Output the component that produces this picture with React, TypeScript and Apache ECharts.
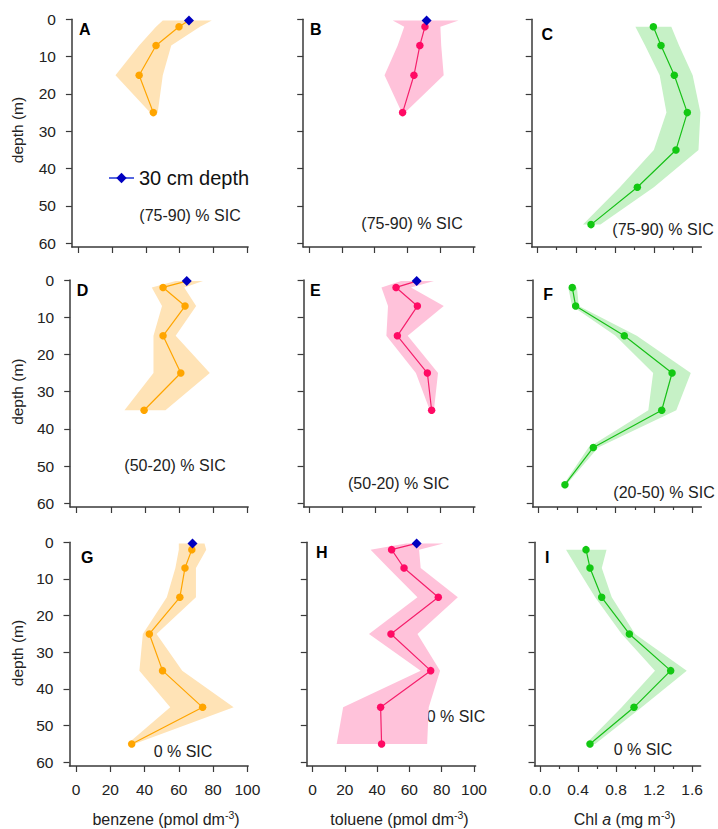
import React, { useEffect, useRef } from "react";
import * as echarts from "echarts";

const FONT = '"Liberation Sans", Arial, Helvetica, sans-serif';

// ---------- depths (m) ----------
const surfaceDepth = 0.3;
const depths4 = [2, 7, 15, 25];
const depths5 = [2, 7, 15, 25, 35];
const depths7 = [2, 7, 15, 25, 35, 45, 55];

// ---------- tick values ----------
const depthTicks = [0, 10, 20, 30, 40, 50, 60];
const concTicks = [0, 20, 40, 60, 80, 100];
const chlTicks = [0, 0.4, 0.8, 1.2, 1.6];
const chlMinorTicks = [0.2, 0.6, 1.0, 1.4];

// ---------- panel A (benzene, 75-90 % SIC) ----------
const benzeneA = [59.6, 46, 36, 44.4];
const benzeneA30cm = 65.5;
const bandLoA = [50, 46, 36, 22, 42.5];
const bandHiA = [79, 72, 55, 50, 47];

// ---------- panel B (toluene, 75-90 % SIC) ----------
const tolueneB = [70.6, 67.5, 63.9, 57];
const tolueneB30cm = 71.6;
const bandLoB = [51, 58, 54, 46, 56.5];
const bandHiB = [91, 80, 80.5, 82, 58.5];

// ---------- panel C (Chl a, 75-90 % SIC) ----------
const chlC = [1.195, 1.274, 1.411, 1.545, 1.428, 1.03, 0.553];
const bandLoC = [1.01, 1.11, 1.26, 1.33, 1.2, 0.85, 0.47];
const bandHiC = [1.38, 1.46, 1.6, 1.68, 1.66, 1.2, 0.65];

// ---------- panel D (benzene, 50-20 % SIC) ----------
const benzeneD = [50.6, 63.5, 50.6, 61, 39.5];
const benzeneD30cm = 64.5;
const bandLoD = [58, 44, 50, 45, 45, 28];
const bandHiD = [74, 63, 70, 58, 78, 52];

// ---------- panel E (toluene, 50-20 % SIC) ----------
const tolueneE = [52.9, 65.9, 53.7, 72, 74.6];
const tolueneE30cm = 65.5;
const bandLoE = [56, 44, 48, 47, 65, 73.5];
const bandHiE = [76, 62, 82, 60, 78.5, 76];

// ---------- panel F (Chl a, 20-50 % SIC) ----------
const chlF = [0.352, 0.387, 0.891, 1.386, 1.279, 0.57, 0.276];
const bandLoF = [0.31, 0.35, 0.8, 1.19, 1.14, 0.52, 0.26];
const bandHiF = [0.4, 0.42, 1.02, 1.58, 1.43, 0.62, 0.29];

// ---------- panel G (benzene, 0 % SIC) ----------
const benzeneG = [67.6, 63.6, 60.6, 42.8, 50.5, 73.9, 32.5];
const benzeneG30cm = 68;
const bandLoG = [60, 60, 58, 53, 39, 37, 55, 30];
const bandHiG = [75, 76, 70, 70, 47, 62, 92, 34];

// ---------- panel H (toluene, 0 % SIC) ----------
const tolueneH = [49, 56.7, 77.9, 48.6, 73.2, 42.2, 42.8];
const tolueneH30cm = 64.5;
const bandLoH = [58, 36, 47, 65, 35, 67, 19, 15];
const bandHiH = [81, 66, 67, 90, 65, 79, 72, 71];

// ---------- panel I (Chl a, 0 % SIC) ----------
const chlI = [0.484, 0.526, 0.649, 0.94, 1.375, 0.989, 0.526];
const bandLoI = [0.274, 0.39, 0.58, 0.86, 1.21, 0.86, 0.48];
const bandHiI = [0.7, 0.65, 0.755, 1.0, 1.544, 1.07, 0.58];

// ---------- labels ----------
const panelLetters = ["A", "B", "C", "D", "E", "F", "G", "H", "I"];
const sicLabels = [
  "(75-90) % SIC", "(75-90) % SIC", "(75-90) % SIC",
  "(50-20) % SIC", "(50-20) % SIC", "(20-50) % SIC",
  "0 % SIC", "0 % SIC", "0 % SIC",
];
const legendLabel = "30 cm depth";

// ---------- layout (pixels) ----------
const rowTop = [19.3, 280, 542.3];
const rowBottom = [247, 507, 766];
const panelLeft = [
  [71.9, 303.2, 531.7],
  [70.2, 303.6, 532.7],
  [69.5, 306.8, 534.5],
];
const panelRight = [
  [248.1, 474.9, 701.4],
  [248.2, 474.9, 701.4],
  [248.2, 475.6, 700.6],
];
const colRange = [
  [-3.8, 100.5],
  [-3.5, 101],
  [-0.058, 1.69],
];
const letterPos = [
  [79, 29.5], [310, 29.5], [541.5, 34],
  [76.7, 290.5], [310, 290.5], [543.3, 294.5],
  [81, 557.5], [316, 552.5], [545, 557],
];
const sicPos = [
  [190, 215], [412, 223], [663, 229],
  [175, 465], [398.7, 483], [664, 492],
  [183, 751], [456, 716.5], [643, 749],
];

const KINDS: any = {
  benzene: { line: "#FFA500", marker: "#FFA500", band: "#FFE3B6" },
  toluene: { line: "#F5206C", marker: "#FF0A64", band: "#FFC2DA" },
  chl: { line: "#18C018", marker: "#12C812", band: "#C6F1C6" },
};

const panels = [
  { kind: "benzene", depths: depths4, values: benzeneA, surface: benzeneA30cm, lo: bandLoA, hi: bandHiA },
  { kind: "toluene", depths: depths4, values: tolueneB, surface: tolueneB30cm, lo: bandLoB, hi: bandHiB },
  { kind: "chl", depths: depths7, values: chlC, surface: null, lo: bandLoC, hi: bandHiC },
  { kind: "benzene", depths: depths5, values: benzeneD, surface: benzeneD30cm, lo: bandLoD, hi: bandHiD },
  { kind: "toluene", depths: depths5, values: tolueneE, surface: tolueneE30cm, lo: bandLoE, hi: bandHiE },
  { kind: "chl", depths: depths7, values: chlF, surface: null, lo: bandLoF, hi: bandHiF },
  { kind: "benzene", depths: depths7, values: benzeneG, surface: benzeneG30cm, lo: bandLoG, hi: bandHiG },
  { kind: "toluene", depths: depths7, values: tolueneH, surface: tolueneH30cm, lo: bandLoH, hi: bandHiH },
  { kind: "chl", depths: depths7, values: chlI, surface: null, lo: bandLoI, hi: bandHiI },
];

const AXIS_COLOR = "#3a3a3a";
const TEXT_COLOR = "#222";

function buildOption() {
  const grid: any[] = [];
  const xAxis: any[] = [];
  const yAxis: any[] = [];
  const series: any[] = [];
  const graphic: any[] = [];

  panels.forEach((p, i) => {
    const row = Math.floor(i / 3);
    const col = i % 3;
    const left = panelLeft[row][col];
    const right = panelRight[row][col];
    grid.push({
      left,
      top: rowTop[row],
      width: right - left,
      height: rowBottom[row] - rowTop[row],
      containLabel: false,
    });
    const isChl = p.kind === "chl";
    const ticks = isChl ? chlTicks : concTicks;
    const xIdx = xAxis.length;
    xAxis.push({
      type: "value",
      gridIndex: i,
      min: colRange[col][0],
      max: colRange[col][1],
      position: "bottom",
      axisLine: { show: true, onZero: false, lineStyle: { color: AXIS_COLOR, width: 1.5 } },
      axisTick: { show: true, length: 6, customValues: ticks, lineStyle: { color: AXIS_COLOR, width: 1.2 } },
      axisLabel: {
        show: row === 2,
        customValues: ticks,
        formatter: (v: number) => (isChl ? v.toFixed(1) : String(v)),
        fontSize: 15.5,
        color: TEXT_COLOR,
        fontFamily: FONT,
        margin: 15,
      },
      splitLine: { show: false },
    });
    if (isChl) {
      xAxis.push({
        type: "value",
        gridIndex: i,
        min: colRange[col][0],
        max: colRange[col][1],
        position: "bottom",
        axisLine: { show: false, onZero: false },
        axisTick: { show: true, length: 3, customValues: chlMinorTicks, lineStyle: { color: AXIS_COLOR, width: 1.2 } },
        axisLabel: { show: false, customValues: chlMinorTicks },
        splitLine: { show: false },
      });
    }
    const yIdx = yAxis.length;
    yAxis.push({
      type: "value",
      gridIndex: i,
      min: 0,
      max: 61,
      inverse: true,
      position: "left",
      axisLine: { show: true, onZero: false, lineStyle: { color: AXIS_COLOR, width: 1.5 } },
      axisTick: { show: true, length: 6, customValues: depthTicks, lineStyle: { color: AXIS_COLOR, width: 1.2 } },
      axisLabel: {
        show: col === 0,
        customValues: depthTicks,
        fontSize: 15.5,
        color: TEXT_COLOR,
        fontFamily: FONT,
        margin: 16,
      },
      splitLine: { show: false },
    });

    const colors = KINDS[p.kind];
    const bandDepths = p.surface !== null ? [surfaceDepth, ...p.depths] : p.depths;
    const lo = p.lo;
    const hi = p.hi;
    series.push({
      type: "custom",
      xAxisIndex: xIdx,
      yAxisIndex: yIdx,
      silent: true,
      z: 1,
      data: bandDepths.map((d, k) => [lo[k], hi[k], d]),
      encode: { x: [0, 1], y: 2 },
      renderItem: (params: any, api: any) => {
        if (params.dataIndex !== 0) return null;
        const pts: number[][] = [];
        bandDepths.forEach((d, k) => pts.push(api.coord([lo[k], d])));
        for (let k = bandDepths.length - 1; k >= 0; k--) pts.push(api.coord([hi[k], bandDepths[k]]));
        return { type: "polygon", shape: { points: pts }, style: { fill: colors.band } };
      },
    });

    const lineData: any[] = [];
    if (p.surface !== null) lineData.push({ value: [p.surface, surfaceDepth], symbol: "none" });
    p.values.forEach((v, k) => lineData.push([v, p.depths[k]]));
    series.push({
      type: "line",
      xAxisIndex: xIdx,
      yAxisIndex: yIdx,
      data: lineData,
      symbol: "circle",
      symbolSize: 7.5,
      z: 2,
      lineStyle: { color: colors.line, width: 1.2 },
      itemStyle: { color: colors.marker },
      silent: true,
    });
    if (p.surface !== null) {
      series.push({
        type: "line",
        name: legendLabel,
        xAxisIndex: xIdx,
        yAxisIndex: yIdx,
        data: [[p.surface, surfaceDepth]],
        symbol: "diamond",
        symbolSize: 10,
        z: 3,
        itemStyle: { color: "#0000C0" },
        lineStyle: { color: "#5566E0", width: 1.5 },
        silent: true,
      });
    }

    graphic.push({
      type: "text",
      x: letterPos[i][0],
      y: letterPos[i][1],
      style: {
        text: panelLetters[i],
        font: `bold 16px ${FONT}`,
        fill: "#000",
        align: "left",
        verticalAlign: "middle",
      },
    });
    graphic.push({
      type: "text",
      x: sicPos[i][0],
      y: sicPos[i][1],
      style: {
        text: sicLabels[i],
        font: `16px ${FONT}`,
        fill: TEXT_COLOR,
        align: "center",
        verticalAlign: "middle",
      },
    });
  });

  // y-axis titles
  [130, 391.7, 653].forEach((y) => {
    graphic.push({
      type: "text",
      x: 17,
      y,
      rotation: Math.PI / 2,
      style: {
        text: "depth (m)",
        font: `15.5px ${FONT}`,
        fill: TEXT_COLOR,
        align: "center",
        verticalAlign: "middle",
      },
    });
  });

  // x-axis titles
  const rich = {
    n: { fontSize: 16, fontFamily: FONT, fill: TEXT_COLOR, lineHeight: 20 },
    i: { fontSize: 16, fontFamily: FONT, fill: TEXT_COLOR, lineHeight: 20, fontStyle: "italic" },
    s: { fontSize: 10.5, fontFamily: FONT, fill: TEXT_COLOR, lineHeight: 10, verticalAlign: "top" },
  };
  const xTitles = [
    { x: 166, text: "{n|benzene (pmol dm}{s|-3}{n|)}" },
    { x: 399.5, text: "{n|toluene (pmol dm}{s|-3}{n|)}" },
    { x: 624.7, text: "{n|Chl }{i|a}{n| (mg m}{s|-3}{n|)}" },
  ];
  xTitles.forEach((t) => {
    graphic.push({
      type: "text",
      x: t.x,
      y: 819,
      style: {
        text: t.text,
        rich,
        align: "center",
        verticalAlign: "middle",
      },
    });
  });

  return {
    animation: false,
    backgroundColor: "#fff",
    grid,
    xAxis,
    yAxis,
    series,
    graphic,
    legend: {
      data: [legendLabel],
      left: 103,
      top: 163,
      itemWidth: 25,
      itemHeight: 13,
      itemGap: 6,
      selectedMode: false,
      textStyle: { fontSize: 20, color: "#111", fontFamily: FONT },
    },
  };
}

export default function App() {
  const ref = useRef<HTMLDivElement>(null);
  useEffect(() => {
    if (!ref.current) return;
    const chart = echarts.init(ref.current, null, { renderer: "svg" });
    chart.setOption(buildOption() as any);
    return () => chart.dispose();
  }, []);
  return (
    <div
      ref={ref}
      style={{ position: "absolute", left: 0, top: 0, width: 718, height: 829, background: "#fff" }}
    />
  );
}
